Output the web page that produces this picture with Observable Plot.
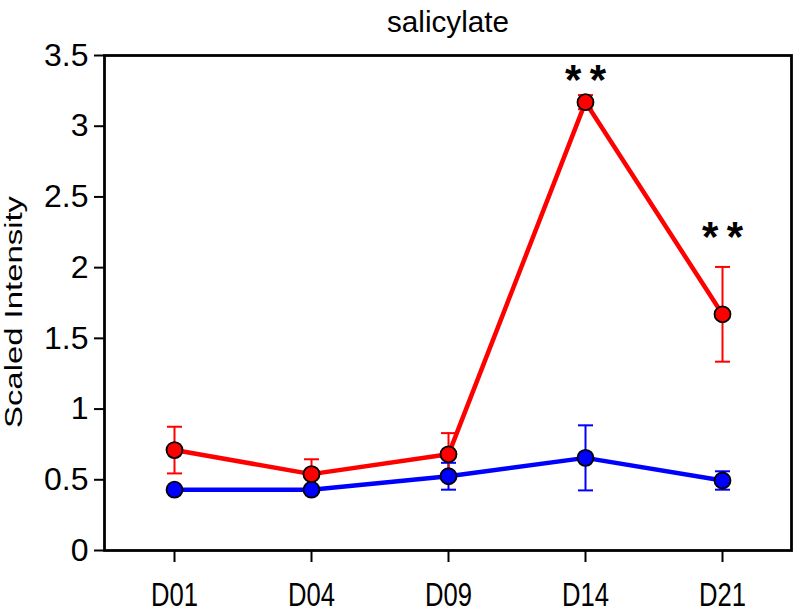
<!DOCTYPE html>
<html>
<head>
<meta charset="utf-8">
<script src="https://cdn.jsdelivr.net/npm/d3@7"></script>
<script src="https://cdn.jsdelivr.net/npm/@observablehq/plot@0.6"></script>
<style>
  html, body { margin: 0; padding: 0; background: #fff; }
</style>
</head>
<body>
<div id="chart"></div>
<script>
const titleText = "salicylate";
const yLabel = "Scaled Intensity";
const days = ["D01", "D04", "D09", "D14", "D21"];
const redMean = [0.71, 0.54, 0.68, 3.17, 1.67];
const redErr = [0.165, 0.105, 0.15, 0.05, 0.335];
const blueMean = [0.43, 0.43, 0.525, 0.655, 0.495];
const blueErr = [0.02, 0.02, 0.095, 0.23, 0.065];
const yTicks = [0, 0.5, 1, 1.5, 2, 2.5, 3, 3.5];
const starDays = ["D14", "D21"];
const starY = [3.37, 2.26];
const starText = "*\u2009*";

const red = "#ff0000";
const blue = "#0000ff";

function series(mean, err, color) {
  return days.map((d, i) => ({ day: d, v: mean[i], lo: mean[i] - err[i], hi: mean[i] + err[i], color }));
}
const redData = series(redMean, redErr, red);
const blueData = series(blueMean, blueErr, blue);
const allData = blueData.concat(redData);
const stars = starDays.map((d, i) => ({ day: d, y: starY[i] }));

const cap = {
  draw(context, size) {
    const w = Math.sqrt(size / Math.PI);
    context.moveTo(-w, 0);
    context.lineTo(w, 0);
  }
};

const font = "'Liberation Sans', Arial, sans-serif";

const chart = Plot.plot({
  width: 797,
  height: 612,
  marginTop: 55,
  marginLeft: 104,
  marginRight: 6,
  marginBottom: 62,
  style: { fontFamily: font, background: "#fff", color: "#000" },
  x: { type: "point", domain: days, padding: 0.5 },
  y: { domain: [0, 3.5] },
  marks: [
    Plot.axisY({ ticks: yTicks, tickFormat: d => String(d), tickSize: 10, tickPadding: 6, fontSize: 32, label: null, strokeWidth: 2 }),
    Plot.axisX({ tickSize: 12, tickPadding: 20, fontSize: 33, label: null, strokeWidth: 2 }),
    Plot.frame({ stroke: "#000", strokeWidth: 2.8 }),
    Plot.ruleX(allData, { x: "day", y1: "lo", y2: "hi", stroke: "color", strokeWidth: 2 }),
    Plot.dot(allData, { x: "day", y: "hi", symbol: cap, r: 7.5, stroke: "color", strokeWidth: 2, fill: "none" }),
    Plot.dot(allData, { x: "day", y: "lo", symbol: cap, r: 7.5, stroke: "color", strokeWidth: 2, fill: "none" }),
    Plot.line(blueData, { x: "day", y: "v", stroke: blue, strokeWidth: 4.5 }),
    Plot.line(redData, { x: "day", y: "v", stroke: red, strokeWidth: 4.5 }),
    Plot.dot(blueData, { x: "day", y: "v", r: 8, fill: blue, stroke: "#000", strokeWidth: 1.8 }),
    Plot.dot(redData, { x: "day", y: "v", r: 8, fill: red, stroke: "#000", strokeWidth: 1.8 }),
    Plot.text(stars, { x: "day", y: "y", text: () => starText, fontSize: 42, fontWeight: "bold", dy: 7, fill: "#000" }),
    Plot.text([titleText], { frameAnchor: "top", dy: -45, fontSize: 30, fill: "#000" }),
    Plot.text([yLabel], { frameAnchor: "left", textAnchor: "start", dx: -90, dy: 125, rotate: -90, fontSize: 23, fill: "#000" })
  ]
});

// condensed look of the original lettering
d3.select(chart).selectAll('g[aria-label="x-axis tick label"] text')
  .attr("textLength", 47).attr("lengthAdjust", "spacingAndGlyphs");
d3.select(chart).selectAll("text").each(function () {
  if (this.textContent === yLabel) {
    d3.select(this).attr("textLength", 232).attr("lengthAdjust", "spacingAndGlyphs");
  }
  if (this.textContent === titleText) {
    d3.select(this).attr("textLength", 122).attr("lengthAdjust", "spacingAndGlyphs");
  }
});

document.getElementById("chart").appendChild(chart);
</script>
</body>
</html>
